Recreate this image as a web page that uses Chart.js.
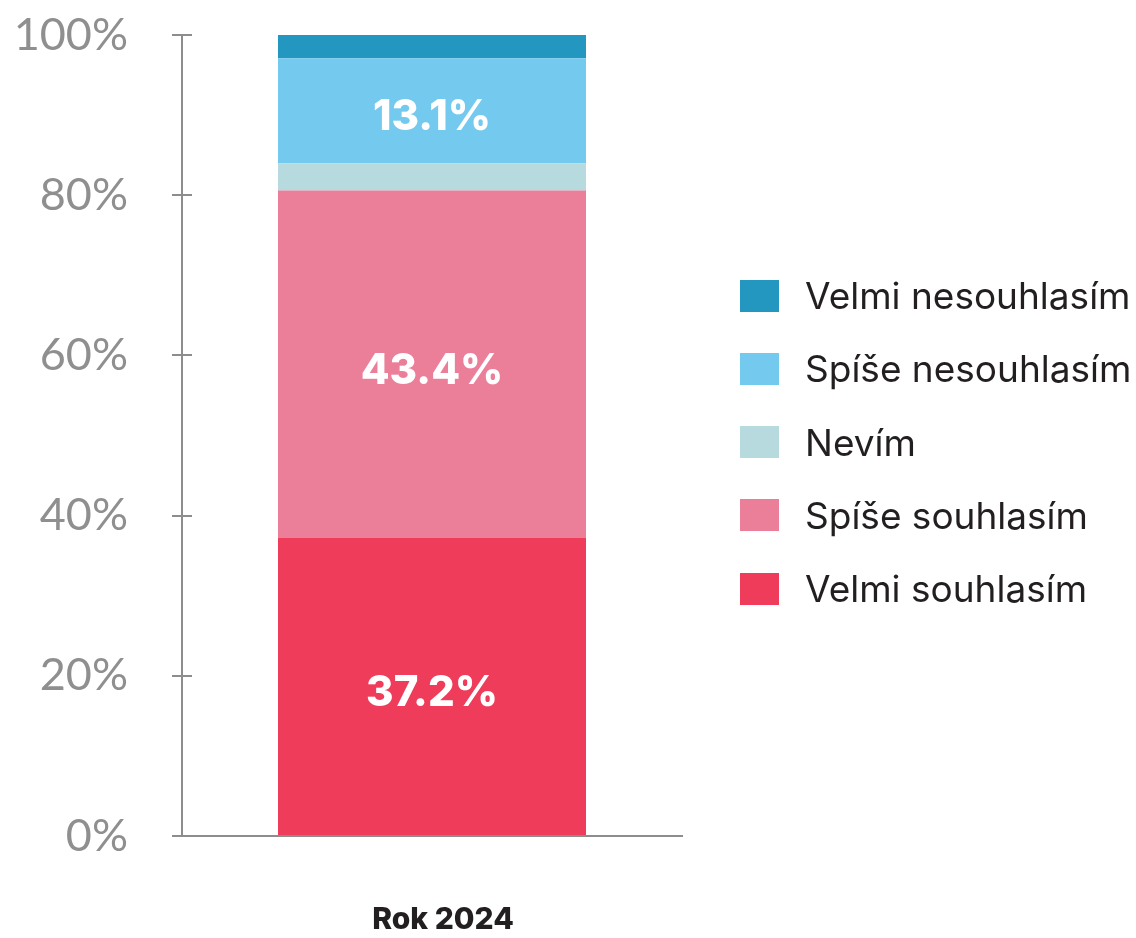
<!DOCTYPE html>
<html>
<head>
<meta charset="utf-8">
<script src="https://cdn.jsdelivr.net/npm/chart.js@4"></script>
<style>
  html, body { margin: 0; padding: 0; background: #fff; }
  .wrap { width: 1136px; height: 938px; position: relative; }
  #legend { position: absolute; left: 740px; top: 259px; margin: 0; padding: 0; list-style: none; }
  #legend li { display: flex; align-items: center; height: 73.25px; font: 400 37px Inter; color: #231f20; white-space: nowrap; }
  #legend .box { width: 39px; height: 32px; margin-right: 26px; flex: none; }
</style>
</head>
<body>
<div class="wrap">
  <canvas id="myChart"></canvas>
  <ul id="legend"></ul>
</div>
<script>
'use strict';
// kategorie (osa x)
const categories = ['Rok 2024'];
// odpovědi – od spodu sloupce nahoru
const answerLabels = ['Velmi souhlasím', 'Spíše souhlasím', 'Nevím', 'Spíše nesouhlasím', 'Velmi nesouhlasím'];
// podíly v %
const answerValues = [37.2, 43.4, 3.4, 13.1, 2.9];
// barvy segmentů
const answerColors = ['#EF3C5A', '#EB7F9A', '#B6DADE', '#74C9EE', '#2497C0'];
// popisky osy y
const yTicks = [0, 20, 40, 60, 80, 100];

// hodnoty pod touto hranicí se nepopisují
const minLabel = 10;

const axisColor = '#8d8d8d';

// popisky hodnot uvnitř segmentů
const valueLabels = {
  id: 'valueLabels',
  afterDatasetsDraw(chart) {
    const ctx = chart.ctx;
    ctx.save();
    ctx.fillStyle = '#ffffff';
    ctx.font = '800 42px Inter';
    ctx.textAlign = 'center';
    ctx.textBaseline = 'middle';
    chart.data.datasets.forEach((ds, i) => {
      const meta = chart.getDatasetMeta(i);
      meta.data.forEach((bar, j) => {
        const v = ds.data[j];
        if (v < minLabel) return;
        const y = (bar.y + bar.base) / 2;
        ctx.fillText(v.toFixed(1) + '%', bar.x, y + 7);
      });
    });
    ctx.restore();
  }
};

// krátké čárky vpravo od osy y (křížek)
const crossTicks = {
  id: 'crossTicks',
  afterDraw(chart) {
    const scale = chart.scales.y;
    const ctx = chart.ctx;
    ctx.save();
    ctx.strokeStyle = axisColor;
    ctx.lineWidth = 2;
    yTicks.forEach(t => {
      if (t === 0) return;
      const y = Math.round(scale.getPixelForValue(t));
      ctx.beginPath();
      ctx.moveTo(scale.right, y);
      ctx.lineTo(scale.right + 10, y);
      ctx.stroke();
    });
    ctx.restore();
  }
};

// legenda v HTML (vpravo od grafu)
const htmlLegend = {
  id: 'htmlLegend',
  afterUpdate(chart) {
    const ul = document.getElementById('legend');
    ul.innerHTML = '';
    const items = chart.options.plugins.legend.labels.generateLabels(chart).reverse();
    items.forEach(item => {
      const li = document.createElement('li');
      const box = document.createElement('span');
      box.className = 'box';
      box.style.background = item.fillStyle;
      li.appendChild(box);
      li.appendChild(document.createTextNode(item.text));
      ul.appendChild(li);
    });
  }
};

const ctx = document.getElementById('myChart').getContext('2d');
ctx.canvas.parentNode.style.height = '938px';
ctx.canvas.parentNode.style.width = '1136px';

const chart = new Chart(ctx, {
  type: 'bar',
  data: {
    labels: categories,
    datasets: answerLabels.map((name, i) => ({
      label: name,
      data: [answerValues[i]],
      backgroundColor: answerColors[i],
      borderWidth: 0,
      barPercentage: 0.616,
      categoryPercentage: 1
    }))
  },
  options: {
    responsive: true,
    maintainAspectRatio: false,
    animation: false,
    layout: {
      padding: { top: 35, right: 454, bottom: 0, left: 0 }
    },
    plugins: {
      tooltip: { enabled: false },
      legend: { display: false }
    },
    scales: {
      x: {
        stacked: true,
        afterFit(scale) {
          scale.height = 102;
          scale.paddingLeft = 0;
          scale.paddingRight = 0;
        },
        grid: { drawOnChartArea: false, drawTicks: false },
        border: { display: true, color: axisColor, width: 2 },
        ticks: {
          padding: 66,
          maxRotation: 0,
          labelOffset: 11,
          color: '#231f20',
          font: { family: 'Inter', size: 30, weight: '800' }
        }
      },
      y: {
        stacked: true,
        min: 0,
        max: 100,
        afterFit(scale) {
          scale.width = 182;
          scale.paddingTop = 0;
          scale.paddingBottom = 0;
        },
        afterBuildTicks(scale) { scale.ticks = yTicks.map(v => ({ value: v })); },
        grid: {
          drawOnChartArea: false,
          drawTicks: true,
          tickLength: 10,
          color: axisColor,
          lineWidth: 2
        },
        border: { display: true, color: axisColor, width: 2 },
        ticks: {
          padding: 44,
          color: '#8f8f8f',
          font: { family: 'Lato', size: 45, weight: '400' },
          callback: v => v + '%'
        }
      }
    }
  },
  plugins: [valueLabels, crossTicks, htmlLegend]
});
</script>
</body>
</html>
